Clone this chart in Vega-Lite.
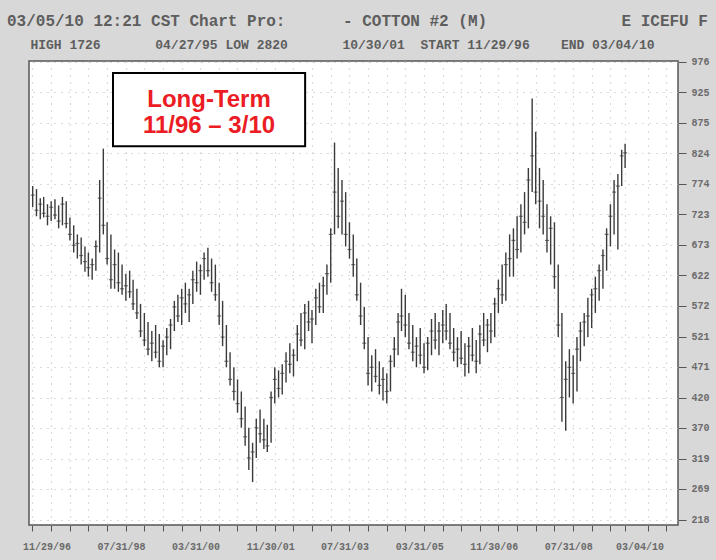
{
  "$schema": "https://vega.github.io/schema/vega-lite/v6.json",
  "width": 649,
  "height": 464,
  "autosize": {"type": "none"},
  "padding": {"left": 29, "top": 61, "right": 38, "bottom": 35},
  "background": "#d8d8d8",
  "title": {
    "text": "03/05/10 12:21 CST Chart Pro:\u00a0\u00a0\u00a0\u00a0\u00a0\u00a0- COTTON #2 (M)\u00a0\u00a0\u00a0\u00a0\u00a0\u00a0\u00a0\u00a0\u00a0\u00a0\u00a0\u00a0\u00a0\u00a0E ICEFU F",
    "subtitle": "\u200d\u00a0\u00a0\u00a0HIGH 1726\u00a0\u00a0\u00a0\u00a0\u00a0\u00a0\u00a004/27/95 LOW 2820\u00a0\u00a0\u00a0\u00a0\u00a0\u00a0\u00a010/30/01\u00a0\u00a0START 11/29/96\u00a0\u00a0\u00a0\u00a0END 03/04/10",
    "anchor": "start",
    "frame": "group",
    "dx": -22,
    "offset": 5,
    "font": "Liberation Mono",
    "fontSize": 16,
    "fontWeight": "bold",
    "color": "#5e5e5e",
    "subtitleFont": "Liberation Mono",
    "subtitleFontSize": 13,
    "subtitleFontWeight": "bold",
    "subtitleColor": "#5e5e5e",
    "subtitlePadding": 10
  },
  "config": {
    "view": {"fill": "#ffffff", "stroke": "#555555", "strokeWidth": 1.5}
  },
  "datasets": {
    "prices": [
      {"date":"1996-12-01","high":770,"low":735,"close":755},
      {"date":"1997-01-01","high":765,"low":720,"close":730},
      {"date":"1997-02-01","high":750,"low":715,"close":740},
      {"date":"1997-03-01","high":752,"low":718,"close":725},
      {"date":"1997-04-01","high":740,"low":705,"close":720},
      {"date":"1997-05-01","high":745,"low":712,"close":735},
      {"date":"1997-06-01","high":748,"low":715,"close":722},
      {"date":"1997-07-01","high":738,"low":700,"close":712},
      {"date":"1997-08-01","high":752,"low":705,"close":740},
      {"date":"1997-09-01","high":745,"low":700,"close":708},
      {"date":"1997-10-01","high":718,"low":680,"close":690},
      {"date":"1997-11-01","high":705,"low":660,"close":672},
      {"date":"1997-12-01","high":690,"low":650,"close":675},
      {"date":"1998-01-01","high":685,"low":640,"close":655},
      {"date":"1998-02-01","high":670,"low":628,"close":645},
      {"date":"1998-03-01","high":660,"low":620,"close":635},
      {"date":"1998-04-01","high":650,"low":615,"close":640},
      {"date":"1998-05-01","high":680,"low":630,"close":670},
      {"date":"1998-06-01","high":780,"low":660,"close":750},
      {"date":"1998-07-01","high":832,"low":690,"close":705},
      {"date":"1998-08-01","high":710,"low":640,"close":650},
      {"date":"1998-09-01","high":690,"low":600,"close":615},
      {"date":"1998-10-01","high":665,"low":600,"close":640},
      {"date":"1998-11-01","high":660,"low":595,"close":610},
      {"date":"1998-12-01","high":640,"low":590,"close":600},
      {"date":"1999-01-01","high":625,"low":580,"close":605},
      {"date":"1999-02-01","high":630,"low":585,"close":595},
      {"date":"1999-03-01","high":615,"low":565,"close":575},
      {"date":"1999-04-01","high":600,"low":550,"close":560},
      {"date":"1999-05-01","high":575,"low":520,"close":530},
      {"date":"1999-06-01","high":560,"low":505,"close":515},
      {"date":"1999-07-01","high":545,"low":490,"close":500},
      {"date":"1999-08-01","high":530,"low":480,"close":510},
      {"date":"1999-09-01","high":540,"low":485,"close":495},
      {"date":"1999-10-01","high":525,"low":470,"close":480},
      {"date":"1999-11-01","high":515,"low":470,"close":505},
      {"date":"1999-12-01","high":535,"low":490,"close":520},
      {"date":"2000-01-01","high":550,"low":500,"close":540},
      {"date":"2000-02-01","high":580,"low":530,"close":570},
      {"date":"2000-03-01","high":590,"low":545,"close":555},
      {"date":"2000-04-01","high":600,"low":540,"close":585},
      {"date":"2000-05-01","high":610,"low":560,"close":575},
      {"date":"2000-06-01","high":600,"low":545,"close":590},
      {"date":"2000-07-01","high":630,"low":575,"close":615},
      {"date":"2000-08-01","high":645,"low":595,"close":610},
      {"date":"2000-09-01","high":640,"low":590,"close":630},
      {"date":"2000-10-01","high":660,"low":615,"close":650},
      {"date":"2000-11-01","high":668,"low":620,"close":630},
      {"date":"2000-12-01","high":650,"low":595,"close":610},
      {"date":"2001-01-01","high":640,"low":580,"close":590},
      {"date":"2001-02-01","high":610,"low":540,"close":555},
      {"date":"2001-03-01","high":580,"low":505,"close":520},
      {"date":"2001-04-01","high":540,"low":470,"close":480},
      {"date":"2001-05-01","high":495,"low":440,"close":450},
      {"date":"2001-06-01","high":470,"low":415,"close":430},
      {"date":"2001-07-01","high":450,"low":395,"close":410},
      {"date":"2001-08-01","high":430,"low":370,"close":385},
      {"date":"2001-09-01","high":405,"low":340,"close":355},
      {"date":"2001-10-01","high":370,"low":300,"close":320},
      {"date":"2001-11-01","high":345,"low":280,"close":330},
      {"date":"2001-12-01","high":385,"low":320,"close":370},
      {"date":"2002-01-01","high":400,"low":345,"close":360},
      {"date":"2002-02-01","high":385,"low":335,"close":350},
      {"date":"2002-03-01","high":375,"low":330,"close":340},
      {"date":"2002-04-01","high":430,"low":345,"close":420},
      {"date":"2002-05-01","high":470,"low":410,"close":450},
      {"date":"2002-06-01","high":465,"low":420,"close":435},
      {"date":"2002-07-01","high":475,"low":425,"close":460},
      {"date":"2002-08-01","high":495,"low":445,"close":480},
      {"date":"2002-09-01","high":510,"low":460,"close":475},
      {"date":"2002-10-01","high":500,"low":455,"close":490},
      {"date":"2002-11-01","high":540,"low":480,"close":525},
      {"date":"2002-12-01","high":560,"low":505,"close":515},
      {"date":"2003-01-01","high":575,"low":500,"close":560},
      {"date":"2003-02-01","high":580,"low":530,"close":545},
      {"date":"2003-03-01","high":565,"low":510,"close":550},
      {"date":"2003-04-01","high":600,"low":540,"close":585},
      {"date":"2003-05-01","high":610,"low":560,"close":570},
      {"date":"2003-06-01","high":620,"low":560,"close":605},
      {"date":"2003-07-01","high":640,"low":590,"close":625},
      {"date":"2003-08-01","high":700,"low":610,"close":690},
      {"date":"2003-09-01","high":842,"low":690,"close":760},
      {"date":"2003-10-01","high":800,"low":700,"close":720},
      {"date":"2003-11-01","high":780,"low":690,"close":745},
      {"date":"2003-12-01","high":760,"low":670,"close":690},
      {"date":"2004-01-01","high":710,"low":650,"close":665},
      {"date":"2004-02-01","high":690,"low":620,"close":640},
      {"date":"2004-03-01","high":650,"low":580,"close":590},
      {"date":"2004-04-01","high":610,"low":540,"close":555},
      {"date":"2004-05-01","high":570,"low":500,"close":510},
      {"date":"2004-06-01","high":520,"low":440,"close":460},
      {"date":"2004-07-01","high":490,"low":430,"close":470},
      {"date":"2004-08-01","high":500,"low":445,"close":455},
      {"date":"2004-09-01","high":480,"low":425,"close":440},
      {"date":"2004-10-01","high":470,"low":415,"close":450},
      {"date":"2004-11-01","high":460,"low":410,"close":430},
      {"date":"2004-12-01","high":490,"low":430,"close":480},
      {"date":"2005-01-01","high":520,"low":470,"close":500},
      {"date":"2005-02-01","high":560,"low":490,"close":545},
      {"date":"2005-03-01","high":600,"low":530,"close":555},
      {"date":"2005-04-01","high":590,"low":520,"close":540},
      {"date":"2005-05-01","high":560,"low":500,"close":510},
      {"date":"2005-06-01","high":540,"low":480,"close":495},
      {"date":"2005-07-01","high":520,"low":470,"close":505},
      {"date":"2005-08-01","high":535,"low":475,"close":490},
      {"date":"2005-09-01","high":510,"low":460,"close":470},
      {"date":"2005-10-01","high":520,"low":465,"close":510},
      {"date":"2005-11-01","high":550,"low":490,"close":530},
      {"date":"2005-12-01","high":560,"low":500,"close":515},
      {"date":"2006-01-01","high":545,"low":490,"close":530},
      {"date":"2006-02-01","high":565,"low":510,"close":540},
      {"date":"2006-03-01","high":575,"low":515,"close":530},
      {"date":"2006-04-01","high":560,"low":500,"close":510},
      {"date":"2006-05-01","high":535,"low":480,"close":495},
      {"date":"2006-06-01","high":520,"low":470,"close":500},
      {"date":"2006-07-01","high":530,"low":475,"close":485},
      {"date":"2006-08-01","high":510,"low":455,"close":475},
      {"date":"2006-09-01","high":520,"low":460,"close":505},
      {"date":"2006-10-01","high":535,"low":480,"close":490},
      {"date":"2006-11-01","high":515,"low":460,"close":480},
      {"date":"2006-12-01","high":540,"low":475,"close":525},
      {"date":"2007-01-01","high":560,"low":505,"close":515},
      {"date":"2007-02-01","high":550,"low":495,"close":540},
      {"date":"2007-03-01","high":560,"low":510,"close":530},
      {"date":"2007-04-01","high":585,"low":520,"close":575},
      {"date":"2007-05-01","high":615,"low":560,"close":600},
      {"date":"2007-06-01","high":640,"low":575,"close":590},
      {"date":"2007-07-01","high":660,"low":580,"close":640},
      {"date":"2007-08-01","high":690,"low":620,"close":650},
      {"date":"2007-09-01","high":700,"low":620,"close":680},
      {"date":"2007-10-01","high":720,"low":650,"close":665},
      {"date":"2007-11-01","high":740,"low":660,"close":720},
      {"date":"2007-12-01","high":760,"low":690,"close":710},
      {"date":"2008-01-01","high":800,"low":700,"close":780},
      {"date":"2008-02-01","high":915,"low":760,"close":820},
      {"date":"2008-03-01","high":860,"low":740,"close":760},
      {"date":"2008-04-01","high":800,"low":700,"close":745},
      {"date":"2008-05-01","high":780,"low":690,"close":720},
      {"date":"2008-06-01","high":740,"low":660,"close":680},
      {"date":"2008-07-01","high":720,"low":640,"close":700},
      {"date":"2008-08-01","high":710,"low":600,"close":620},
      {"date":"2008-09-01","high":640,"low":520,"close":540},
      {"date":"2008-10-01","high":560,"low":380,"close":420},
      {"date":"2008-11-01","high":480,"low":365,"close":450},
      {"date":"2008-12-01","high":500,"low":420,"close":470},
      {"date":"2009-01-01","high":490,"low":410,"close":460},
      {"date":"2009-02-01","high":520,"low":430,"close":500},
      {"date":"2009-03-01","high":545,"low":480,"close":530},
      {"date":"2009-04-01","high":560,"low":505,"close":545},
      {"date":"2009-05-01","high":585,"low":520,"close":555},
      {"date":"2009-06-01","high":600,"low":535,"close":590},
      {"date":"2009-07-01","high":620,"low":560,"close":600},
      {"date":"2009-08-01","high":640,"low":580,"close":630},
      {"date":"2009-09-01","high":665,"low":600,"close":655},
      {"date":"2009-10-01","high":700,"low":630,"close":690},
      {"date":"2009-11-01","high":740,"low":670,"close":720},
      {"date":"2009-12-01","high":780,"low":690,"close":760},
      {"date":"2010-01-01","high":790,"low":665,"close":770},
      {"date":"2010-02-01","high":830,"low":770,"close":820},
      {"date":"2010-03-01","high":840,"low":800,"close":825}
    ],
    "box": [
      {"start":"1998-09-18","end":"2003-01-04","top":957,"bottom":836}
    ],
    "note": [
      {"date":"2000-11-10","value":912,"label":"Long-Term\n11/96 \u2013 3/10"}
    ]
  },
  "layer": [
    {
      "data": {"name": "prices"},
      "mark": {"type": "rule", "color": "#3a3a3a", "strokeWidth": 1.4},
      "encoding": {
        "x": {
          "field": "date", "type": "temporal", "title": null,
          "scale": {"domain": [{"year": 1996, "month": 11, "date": 1}, {"year": 2011, "month": 5, "date": 7}]},
          "axis": {
            "orient": "bottom",
            "values": [
              {"year":1996,"month":11,"date":29},{"year":1997,"month":4,"date":30},{"year":1997,"month":9,"date":30},
              {"year":1998,"month":2,"date":28},{"year":1998,"month":7,"date":31},{"year":1998,"month":12,"date":31},
              {"year":1999,"month":5,"date":31},{"year":1999,"month":10,"date":31},{"year":2000,"month":3,"date":31},
              {"year":2000,"month":8,"date":31},{"year":2001,"month":1,"date":31},{"year":2001,"month":6,"date":30},
              {"year":2001,"month":11,"date":30},{"year":2002,"month":4,"date":30},{"year":2002,"month":9,"date":30},
              {"year":2003,"month":2,"date":28},{"year":2003,"month":7,"date":31},{"year":2003,"month":12,"date":31},
              {"year":2004,"month":5,"date":31},{"year":2004,"month":10,"date":31},{"year":2005,"month":3,"date":31},
              {"year":2005,"month":8,"date":31},{"year":2006,"month":1,"date":31},{"year":2006,"month":6,"date":30},
              {"year":2006,"month":11,"date":30},{"year":2007,"month":4,"date":30},{"year":2007,"month":9,"date":30},
              {"year":2008,"month":2,"date":29},{"year":2008,"month":7,"date":31},{"year":2008,"month":12,"date":31},
              {"year":2009,"month":5,"date":31},{"year":2009,"month":10,"date":31},{"year":2010,"month":3,"date":4},
              {"year":2010,"month":8,"date":31},{"year":2011,"month":1,"date":31}
            ],
            "tickCount": 40,
            "labelExpr": "indexof(['11/29/96','07/31/98','03/31/00','11/30/01','07/31/03','03/31/05','11/30/06','07/31/08','03/04/10'], timeFormat(datum.value, '%m/%d/%y')) >= 0 ? timeFormat(datum.value, '%m/%d/%y') : ''",
            "labelAlign": "left",
            "labelOffset": -10,
            "labelPadding": 10,
            "labelFont": "Liberation Mono",
            "labelFontSize": 10,
            "labelFontWeight": "bold",
            "labelColor": "#6a6a6a",
            "labelOverlap": false,
            "labelFlush": false,
            "tickSize": 6,
            "tickColor": "#555555",
            "domain": false,
            "grid": true,
            "gridColor": "#b8b8b8",
            "gridDash": [1, 6],
            "gridWidth": 1.2
          }
        },
        "y": {
          "field": "low", "type": "quantitative", "title": null,
          "scale": {"domain": [209, 977], "nice": false, "zero": false},
          "axis": {
            "orient": "right",
            "values": [976, 925, 875, 824, 774, 723, 673, 622, 572, 521, 471, 420, 370, 319, 269, 218],
            "tickCount": 20,
            "labelFont": "Liberation Mono",
            "labelFontSize": 10,
            "labelFontWeight": "bold",
            "labelColor": "#6a6a6a",
            "labelPadding": 5,
            "labelOverlap": false,
            "labelFlush": false,
            "tickSize": 8,
            "tickColor": "#555555",
            "domain": false,
            "grid": true,
            "gridColor": "#b8b8b8",
            "gridDash": [1, 6],
            "gridWidth": 1.2
          }
        },
        "y2": {"field": "high"}
      }
    },
    {
      "data": {"name": "prices"},
      "mark": {"type": "tick", "orient": "horizontal", "color": "#3a3a3a", "size": 4, "thickness": 1.2},
      "encoding": {
        "x": {"field": "date", "type": "temporal"},
        "y": {"field": "close", "type": "quantitative"}
      }
    },
    {
      "data": {"name": "box"},
      "mark": {"type": "rect", "fill": "#ffffff", "stroke": "#000000", "strokeWidth": 2},
      "encoding": {
        "x": {"field": "start", "type": "temporal"},
        "x2": {"field": "end"},
        "y": {"field": "top", "type": "quantitative"},
        "y2": {"field": "bottom"}
      }
    },
    {
      "data": {"name": "note"},
      "mark": {"type": "text", "font": "Liberation Sans", "fontSize": 24, "fontWeight": "bold", "color": "#ec1c24", "lineBreak": "\n", "lineHeight": 26, "align": "center", "baseline": "middle"},
      "encoding": {
        "x": {"field": "date", "type": "temporal"},
        "y": {"field": "value", "type": "quantitative"},
        "text": {"field": "label"}
      }
    }
  ]
}
